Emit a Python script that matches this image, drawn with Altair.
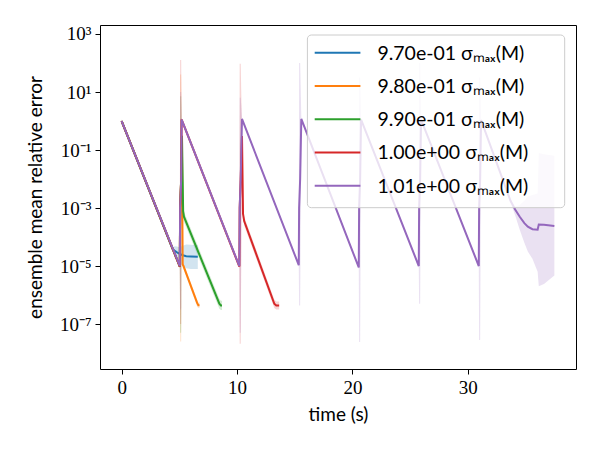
import altair as alt
import pandas as pd

LABELS = ["9.70e-01 σₘₐₓ(M)", "9.80e-01 σₘₐₓ(M)", "9.90e-01 σₘₐₓ(M)",
          "1.00e+00 σₘₐₓ(M)", "1.01e+00 σₘₐₓ(M)"]
COLORS = ["#1f77b4", "#ff7f0e", "#2ca02c", "#d62728", "#9467bd"]

# All values are log10 of the ensemble mean relative error (mean, lower, upper)
BLUE_T = [0.0, 4.4, 4.6, 4.8, 5.0, 5.3, 5.6, 6.0, 6.6]
BLUE_M = [0.0, -4.4, -4.48, -4.53, -4.57, -4.63, -4.66, -4.67, -4.68]
BLUE_LO = [-0.04, -4.45, -4.72, -4.8, -4.85, -5.0, -5.08, -5.1, -5.1]
BLUE_HI = [0.04, -4.35, -4.32, -4.33, -4.35, -4.3, -4.26, -4.27, -4.28]

ORANGE_T = [0.0, 5.04, 5.07, 5.16, 5.22, 5.29, 5.36, 6.55, 6.65, 6.75]
ORANGE_M = [0.0, -5.02, -3.0, -2.0, -0.5, -4.95, -5.0, -6.28, -6.35, -6.35]
ORANGE_LO = [-0.04, -5.07, -7.6, -7.6, -0.6, -5.05, -5.1, -6.4, -6.45, -6.45]
ORANGE_HI = [0.04, -4.97, 1.6, 1.6, -0.4, -4.85, -4.9, -6.16, -6.25, -6.25]

GREEN_T = [0.0, 5.04, 5.07, 5.16, 5.23, 5.33, 5.4, 8.47, 8.6, 8.7]
GREEN_M = [0.0, -5.02, -3.0, -2.0, -0.52, -3.1, -3.3, -6.3, -6.36, -6.36]
GREEN_LO = [-0.05, -5.08, -7.3, -7.3, -0.6, -3.3, -3.47, -6.47, -6.52, -6.52]
GREEN_HI = [0.05, -4.96, 0.85, 0.85, -0.44, -2.9, -3.13, -6.13, -6.2, -6.2]

RED_T = [0.0, 5.04, 5.07, 5.16, 5.2, 10.2, 10.23, 10.32, 10.43, 10.52, 10.62,
         13.23, 13.4, 13.65]
RED_M = [0.0, -5.02, -3.0, -2.0, 0.05, -5.02, -3.0, -2.0, -0.52, -3.2, -3.45,
         -6.3, -6.36, -6.36]
RED_LO = [-0.05, -5.08, -7.0, -7.0, 0.0, -5.08, -7.68, -7.68, -0.6, -3.35, -3.6,
          -6.45, -6.5, -6.5]
RED_HI = [0.05, -4.96, 2.1, 2.1, 0.1, -4.96, 1.97, 1.97, -0.44, -3.05, -3.3,
          -6.15, -6.22, -6.22]

PURPLE_T = [0.0, 5.04, 5.07, 5.16, 5.2, 10.2, 10.23, 10.32, 10.43,
            15.35, 15.38, 15.47, 15.57, 20.55, 20.58, 20.67, 20.75,
            25.75, 25.78, 25.87, 25.95, 30.95, 30.98, 31.07, 31.15,
            33.7, 34.1, 34.5, 34.9, 35.2, 35.6, 36.05, 36.15, 36.6, 37.5]
PURPLE_M = [0.0, -5.0, -3.0, -2.0, 0.05, -5.0, -3.0, -2.0, 0.07,
            -4.97, -3.0, -2.0, 0.07, -5.05, -3.0, -2.0, 0.05,
            -5.0, -3.0, -2.0, 0.05, -5.0, -3.0, -2.0, 0.03,
            -2.75, -3.05, -3.3, -3.52, -3.64, -3.73, -3.75, -3.57, -3.58, -3.62]
PURPLE_LO = [-0.04, -5.05, -6.5, -6.5, 0.0, -5.05, -7.3, -7.3, 0.02,
             -5.02, -6.36, -6.36, 0.02, -5.1, -7.62, -7.62, 0.0,
             -5.05, -6.3, -6.3, 0.0, -5.05, -7.55, -7.55, -0.02,
             -2.8, -3.25, -3.75, -4.2, -4.5, -4.75, -5.2, -5.7, -5.62, -5.33]
PURPLE_HI = [0.04, -4.95, 1.0, 1.0, 0.1, -4.95, 0.8, 0.8, 0.12,
             -4.92, 2.0, 2.0, 0.12, -5.0, 1.5, 1.5, 0.1,
             -4.95, 2.0, 2.0, 0.1, -4.95, 1.5, 1.5, 0.08,
             -2.7, -2.95, -2.9, -2.75, -2.6, -2.55, -2.5, -1.1, -1.15, -1.2]

SERIES = [
    (BLUE_T, BLUE_M, BLUE_LO, BLUE_HI),
    (ORANGE_T, ORANGE_M, ORANGE_LO, ORANGE_HI),
    (GREEN_T, GREEN_M, GREEN_LO, GREEN_HI),
    (RED_T, RED_M, RED_LO, RED_HI),
    (PURPLE_T, PURPLE_M, PURPLE_LO, PURPLE_HI),
]

rows = []
for lab, (ts, ms, los, his) in zip(LABELS, SERIES):
    for t, m, lo, hi in zip(ts, ms, los, his):
        rows.append({"s": lab, "t": t, "m": 10 ** m, "lo": 10 ** lo, "hi": 10 ** hi})
df = pd.DataFrame(rows)
leg_df = pd.DataFrame({"s": LABELS, "i": list(range(len(LABELS)))})

X_TICKS = [0, 10, 20, 30]
Y_TICKS = [1e-7, 1e-5, 1e-3, 1e-1, 1e1, 1e3]

xscale = alt.Scale(domain=[-1.875, 39.375], nice=False, zero=False)
yscale = alt.Scale(type="log", domain=[10 ** -8.55, 10 ** 3.31], nice=False)
cscale = alt.Scale(domain=LABELS, range=COLORS)

label_expr = ("datum.value >= 100 ? '10³' : datum.value >= 1 ? '10¹' : "
              "datum.value >= 0.01 ? '10⁻¹' : datum.value >= 0.0001 ? '10⁻³' : "
              "datum.value >= 0.000001 ? '10⁻⁵' : '10⁻⁷'")

yaxis = alt.Axis(values=Y_TICKS, labelExpr=label_expr,
                 title="ensemble mean relative error")
X = alt.X("t:Q", scale=xscale,
          axis=alt.Axis(values=X_TICKS, title="time (s)", format="d"))

bands = alt.Chart(df).mark_area(opacity=0.2, orient="vertical", clip=True).encode(
    x=X,
    y=alt.Y("lo:Q", scale=yscale, stack=None, axis=yaxis),
    y2="hi:Q",
    color=alt.Color("s:N", scale=cscale, legend=None),
)

lines = []
for lab in LABELS:
    lines.append(
        alt.Chart(df).transform_filter(alt.datum.s == lab)
        .mark_line(strokeWidth=2, clip=True)
        .encode(x=X, y=alt.Y("m:Q", scale=yscale, stack=None, axis=yaxis),
                color=alt.Color("s:N", scale=cscale, legend=None))
    )

data_layers = alt.layer(bands, *lines)

# legend, drawn as marks
leg_y = alt.Y("i:O", scale=alt.Scale(type="point", domain=list(range(len(LABELS))),
                                     range=[27.7, 160.7], padding=0), axis=None)
leg_box = alt.Chart(pd.DataFrame({"s": [LABELS[0]]})).mark_rect(
    fill="white", fillOpacity=0.8, stroke="#cccccc", strokeWidth=1, cornerRadius=4
).encode(x=alt.value(207.4), x2=alt.value(464.7), y=alt.value(10), y2=alt.value(182.7))
leg_sym = alt.Chart(leg_df).mark_rule(strokeWidth=2).encode(
    x=alt.value(214.7), x2=alt.value(260.4), y=leg_y,
    color=alt.Color("s:N", scale=cscale, legend=None))
leg_txt = alt.Chart(leg_df).mark_text(
    align="left", baseline="middle", font="Lato", fontSize=19.5, color="black", dy=1
).encode(x=alt.value(277.4), y=leg_y, text="s:N")
legend_layers = alt.layer(leg_box, leg_sym, leg_txt)

chart = alt.layer(data_layers, legend_layers).resolve_scale(y="independent").properties(
    width=476, height=344,
    autosize=alt.AutoSizeParams(type="none"),
    padding={"left": 92, "top": 17, "right": 16, "bottom": 73},
).configure_view(
    stroke="black", strokeWidth=1
).configure_axis(
    grid=False, domain=False, tickColor="black", tickSize=5, tickWidth=1,
    labelColor="black", labelFont="Liberation Serif", labelFontSize=19,
    labelPadding=4, titleColor="black", titleFont="Lato", titleFontSize=19,
    titleFontWeight="normal"
).configure_axisY(titlePadding=14).configure_axisX(titlePadding=8)

chart.save("out.html", embed_options={"renderer": "svg", "actions": False})
